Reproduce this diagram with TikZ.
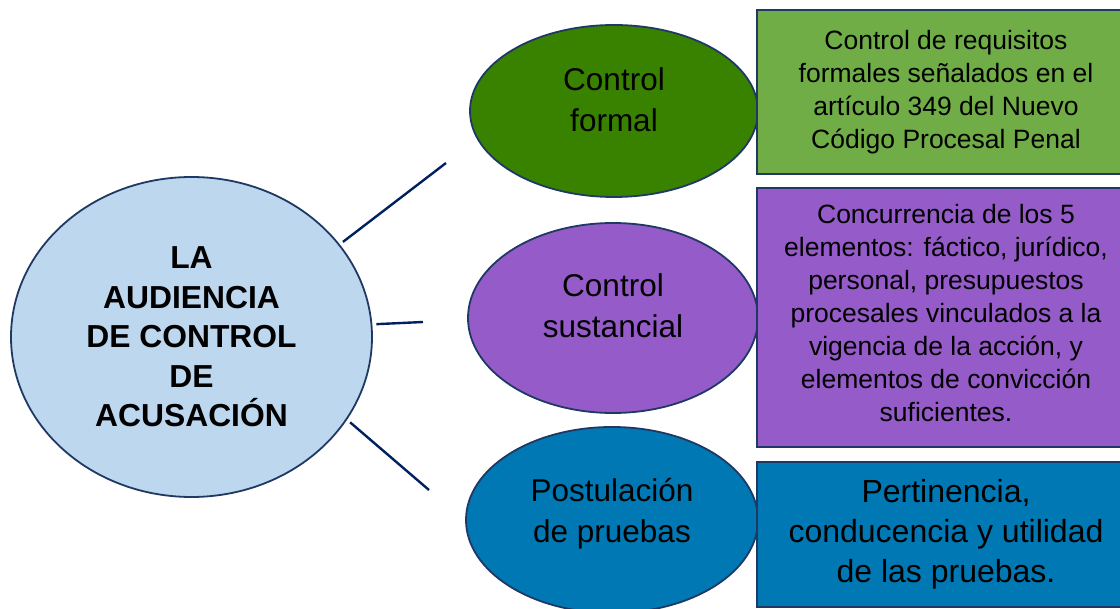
\documentclass[tikz,border=0pt]{standalone}
\usepackage{fontspec}
\setmainfont{Liberation Sans}
\usetikzlibrary{shapes.geometric}
\definecolor{navy}{HTML}{1F3864}
\definecolor{spokeblue}{HTML}{002060}
\definecolor{skyfill}{HTML}{BDD7EE}
\definecolor{leafgreen}{HTML}{388200}
\definecolor{lightgreen}{HTML}{70AD47}
\definecolor{lilac}{HTML}{955BC9}
\definecolor{seablue}{HTML}{0078B4}
\tikzset{
  oval/.style={ellipse, draw=navy, line width=1.8pt, align=center, inner sep=0pt,
    font=\fontsize{31.5}{41}\selectfont},
  card/.style={rectangle, draw=navy, line width=1.8pt, align=center, inner sep=0pt,
    minimum width=378pt, font=\fontsize{26.5}{33}\selectfont},
  lift/.style={execute at end node={\rule[-#1]{0pt}{0pt}}},
  spoke/.style={draw=spokeblue, line width=2.4pt, shorten <=4pt},
}
\begin{document}
\begin{tikzpicture}[x=1pt, y=-1pt]
  \useasboundingbox (0,0) rectangle (1120,609);
  \draw
    (191.5,337) node[oval, fill=skyfill, minimum width=361pt, minimum height=320pt,
      font=\bfseries\fontsize{31.8}{39.6}\selectfont] (audiencia)
      {LA\\AUDIENCIA\\DE CONTROL\\DE\\ACUSACIÓN}
    (614,111) node[oval, fill=leafgreen, minimum width=288pt, minimum height=172pt, lift=22pt] (formal)
      {Control\\formal}
    (613,318) node[oval, fill=lilac, minimum width=290pt, minimum height=190pt, lift=24pt] (sustancial)
      {Control\\sustancial}
    (612,520) node[oval, fill=seablue, minimum width=292pt, minimum height=186pt, lift=19pt] (pruebas)
      {Postulación\\de pruebas};
  \draw
    (946,92) node[card, fill=lightgreen, minimum height=164pt] (requisitos)
      {Control de requisitos\\formales señalados en el\\artículo 349 del Nuevo\\Código Procesal Penal}
    (946,317.5) node[card, fill=lilac, minimum height=259pt, lift=10pt] (elementos)
      {Concurrencia de los 5\\elementos: fáctico, jurídico,\\personal, presupuestos\\procesales vinculados a la\\vigencia de la acción, y\\elementos de convicción\\suficientes.}
    (946,534.5) node[card, fill=seablue, minimum height=145pt,
      font=\fontsize{32}{40}\selectfont] (utilidad)
      {Pertinencia,\\conducencia y utilidad\\de las pruebas.};
  \coordinate (tip1) at (446,163);
  \coordinate (tip2) at (423,322);
  \coordinate (tip3) at (429,490);
  \begin{scope}[spoke]
    \draw (audiencia.32.6) to (tip1);
    \draw (audiencia.4.3) to (tip2);
    \draw (audiencia.-28) to (tip3);
  \end{scope}
\end{tikzpicture}
\end{document}
